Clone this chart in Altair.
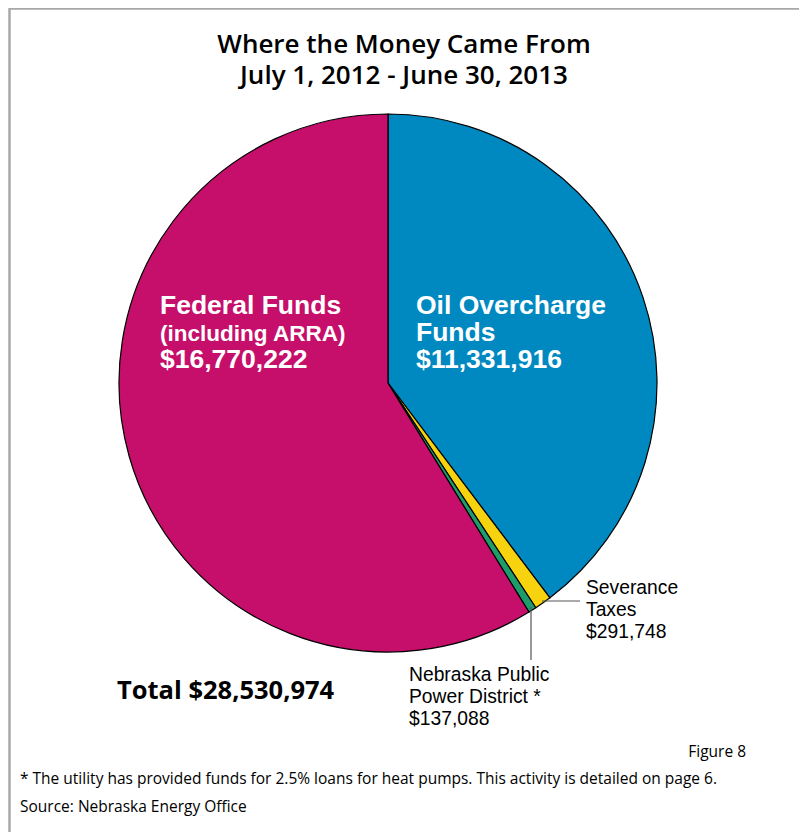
import altair as alt
import pandas as pd

# ---- data ----
categories = ["Oil Overcharge Funds", "Severance Taxes", "Nebraska Public Power District", "Federal Funds"]
amounts = [11331916, 291748, 137088, 16770222]
order = [1, 2, 3, 4]
colors = ["#0089C0", "#F7D20E", "#1F9C6B", "#C50F6B"]

title_lines = ["Where the Money Came From", "July 1, 2012 - June 30, 2013"]
fed_label = ["Federal Funds", "(including ARRA)", "$16,770,222"]
oil_label = ["Oil Overcharge", "Funds", "$11,331,916"]
sev_label = ["Severance", "Taxes", "$291,748"]
nppd_label = ["Nebraska Public", "Power District *", "$137,088"]
total_text = "Total $28,530,974"
figure_text = "Figure 8"
footnote = "* The utility has provided funds for 2.5% loans for heat pumps.  This activity is detailed on page 6."
source_text = "Source: Nebraska Energy Office"

W, H = 791, 824
OX, OY = 8, 8  # page margin offset

df = pd.DataFrame({"category": categories, "amount": amounts, "order": order})
one = pd.DataFrame({"a": [0]})

def px(x):
    return alt.value(x - OX)

def py(y):
    return alt.value(y - OY)

base = alt.Chart(one)

frame = base.mark_rect(fill="white", stroke="#A8A8A8", strokeWidth=2.5).encode(
    x=alt.value(1.5), x2=alt.value(794), y=alt.value(0.5), y2=alt.value(H + 20)
)

pie = alt.Chart(df).mark_arc(radius=269, stroke="black", strokeWidth=1.2).encode(
    theta=alt.Theta("amount:Q", stack=True),
    order=alt.Order("order:Q"),
    color=alt.Color("category:N", scale=alt.Scale(domain=categories, range=colors), legend=None),
    x=px(388), y=py(383),
)

def txt(text, x, y, size, font, weight="normal", color="black", align="left"):
    return base.mark_text(
        text=text, fontSize=size, font=font, fontWeight=weight, color=color,
        align=align, baseline="alphabetic"
    ).encode(x=px(x), y=py(y))

layers = [frame, pie]

# title
layers.append(txt(title_lines[0], 404, 53, 26, "Open Sans", 600, align="center"))
layers.append(txt(title_lines[1], 404, 84, 26, "Open Sans", 600, align="center"))

# inside labels
layers.append(txt(fed_label[0], 160, 314, 26.5, "Liberation Sans", "bold", "white"))
layers.append(txt(fed_label[1], 160, 341, 22.5, "Liberation Sans", "bold", "white"))
layers.append(txt(fed_label[2], 160, 368, 26.5, "Liberation Sans", "bold", "white"))
layers.append(txt(oil_label[0], 416, 314, 26.5, "Liberation Sans", "bold", "white"))
layers.append(txt(oil_label[1], 416, 341, 26.5, "Liberation Sans", "bold", "white"))
layers.append(txt(oil_label[2], 416, 368, 26.5, "Liberation Sans", "bold", "white"))

# outside labels
for i, s in enumerate(sev_label):
    layers.append(txt(s, 586, 594 + i * 22, 19.3, "Liberation Sans"))
for i, s in enumerate(nppd_label):
    layers.append(txt(s, 409, 681 + i * 22, 19.3, "Liberation Sans"))

# leader lines
layers.append(base.mark_rule(color="#555555", strokeWidth=1.2).encode(
    x=px(542), x2=px(580), y=py(601)))
layers.append(base.mark_rule(color="#555555", strokeWidth=1.2).encode(
    x=px(531), y=py(607), y2=py(660)))

# total
layers.append(txt(total_text, 117, 699, 25.5, "Open Sans", "bold"))

# footnotes
layers.append(txt(figure_text, 746, 757, 15.5, "Open Sans", align="right"))
layers.append(txt(footnote, 20, 784, 15.5, "Open Sans"))
layers.append(txt(source_text, 20, 812, 15.5, "Open Sans"))

chart = alt.layer(*layers).properties(
    width=W, height=H, padding=0, autosize=alt.AutoSizeParams(type="none")
).configure_view(stroke=None)

chart.save("out.html", embed_options={"renderer": "svg", "actions": False})
